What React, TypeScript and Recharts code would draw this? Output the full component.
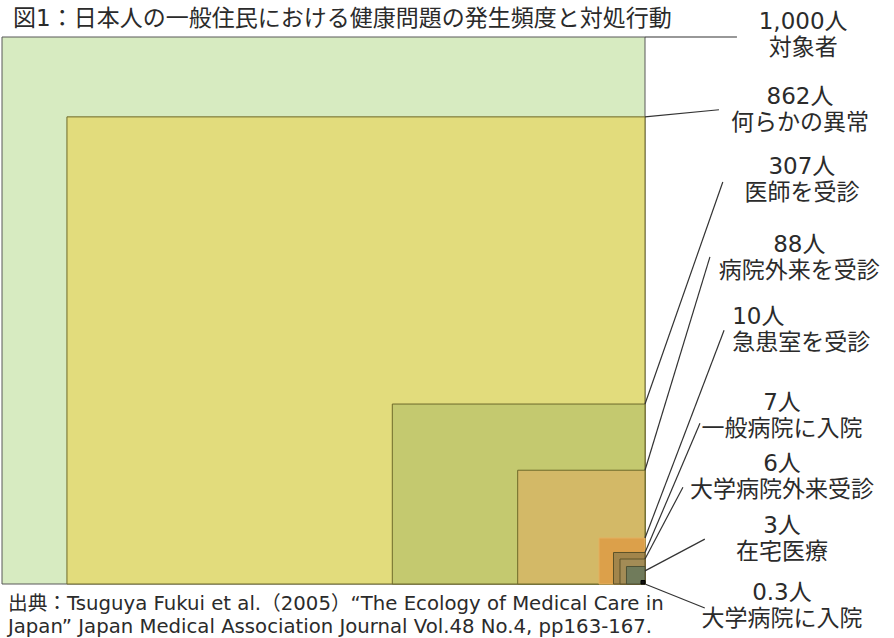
import { ComposedChart, XAxis, YAxis, ReferenceArea, ReferenceLine, ReferenceDot } from 'recharts';

// 図1 data: number of people per 1,000 and what happened to them
const counts = ['1,000人', '862人', '307人', '88人', '10人', '7人', '6人', '3人', '0.3人'];
const stages = [
  '対象者',
  '何らかの異常',
  '医師を受診',
  '病院外来を受診',
  '急患室を受診',
  '一般病院に入院',
  '大学病院外来受診',
  '在宅医療',
  '大学病院に入院',
];

// box extents, measured leftwards / upwards from the bottom-right corner (outer box = 1)
const boxWidth = [1, 0.899, 0.393, 0.198, 0.0715, 0.049, 0.0389, 0.0288, 0.0062];
const boxHeight = [1, 0.854, 0.329, 0.208, 0.084, 0.0576, 0.0457, 0.032, 0.0064];

// leader lines: where they leave the right edge, and where they stop near the label
const leaderStartY = [1, 0.854, 0.329, 0.208, 0.084, 0.0576, 0.0457, 0.024, 0];
const leaderEndX = [0.143, 0.115, 0.121, 0.101, 0.123, 0.0855, 0.059, 0.093, 0.093];
const leaderEndY = [1, 0.867, 0.735, 0.598, 0.464, 0.294, 0.177, 0.082, -0.044];

// label centres in the same units
const labelX = [0.246, 0.241, 0.244, 0.24, 0.243, 0.213, 0.213, 0.213, 0.213];
const labelY = [1.006, 0.869, 0.7395, 0.5987, 0.466, 0.309, 0.198, 0.084, -0.039];

const FILLS = ['#d7ebc1', '#e2dc7c', '#c4c96f', '#d3b967', '#dca04a', '#a2854b', '#a38c56', '#707b5b', '#111111'];
const STROKES = ['#595959', '#6e6a2a', '#6e6a2a', '#6e6a2a', '#e4b060', '#5e5228', '#5e5228', '#4e5236', '#000000'];

const FONT = "'DejaVu Sans', 'Noto Sans CJK JP', sans-serif";
const SIZE = 23;
const TEXT = '#2b2b2b';

function StageLabel({ cx, cy, i }: { cx?: number; cy?: number; i: number }) {
  if (cx == null || cy == null) return null;
  // the "10人" line sits flush left with the line under it
  const flushLeft = i === 4;
  const x1 = flushLeft ? cx - (stages[i].length * SIZE) / 2 : cx;
  return (
    <g fontFamily={FONT} fontSize={SIZE} fill={TEXT}>
      <text x={x1} y={cy - 13} textAnchor={flushLeft ? 'start' : 'middle'} dominantBaseline="central">
        {counts[i]}
      </text>
      <text x={cx} y={cy + 13} textAnchor="middle" dominantBaseline="central">
        {stages[i]}
      </text>
    </g>
  );
}

export default function App() {
  return (
    <div style={{ position: 'absolute', left: 0, top: 0, width: 894, height: 638, background: '#fff', fontFamily: FONT, color: TEXT }}>
      <div style={{ position: 'absolute', left: 13, top: 7, fontSize: SIZE, lineHeight: '23px', whiteSpace: 'nowrap' }}>
        図1：日本人の一般住民における健康問題の発生頻度と対処行動
      </div>

      <ComposedChart width={894} height={638} data={[]} margin={{ top: 37, right: 249, bottom: 54, left: 2 }}>
        <XAxis type="number" dataKey="x" domain={[-1, 0]} allowDataOverflow hide />
        <YAxis type="number" dataKey="y" domain={[0, 1]} allowDataOverflow hide />

        {boxWidth.map((w, i) => (
          <ReferenceArea
            key={`box-${i}`}
            x1={-w}
            x2={0}
            y1={0}
            y2={boxHeight[i]}
            fill={FILLS[i]}
            fillOpacity={1}
            stroke={STROKES[i]}
            strokeWidth={1}
            ifOverflow="visible"
          />
        ))}

        {leaderEndX.map((ex, i) => (
          <ReferenceLine
            key={`lead-${i}`}
            segment={[
              { x: 0, y: leaderStartY[i] },
              { x: ex, y: leaderEndY[i] },
            ]}
            stroke="#333"
            strokeWidth={1.2}
            ifOverflow="visible"
          />
        ))}

        {labelX.map((lx, i) => (
          <ReferenceDot
            key={`lab-${i}`}
            x={lx}
            y={labelY[i]}
            r={0}
            ifOverflow="visible"
            shape={(p: any) => <StageLabel cx={p.cx} cy={p.cy} i={i} />}
          />
        ))}
      </ComposedChart>

      <div style={{ position: 'absolute', left: 8, top: 592, fontSize: 19.7, lineHeight: '23px', whiteSpace: 'nowrap' }}>
        出典：Tsuguya Fukui et al.（2005）“The Ecology of Medical Care in
        <br />
        Japan” Japan Medical Association Journal Vol.48 No.4, pp163-167.
      </div>
    </div>
  );
}
